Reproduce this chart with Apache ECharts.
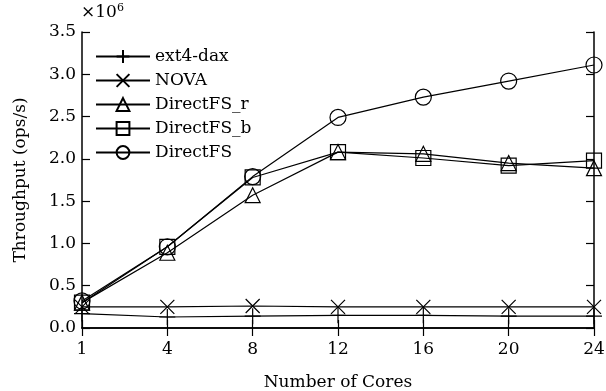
<!DOCTYPE html>
<html>
<head>
<meta charset="utf-8">
<script src="https://cdn.jsdelivr.net/npm/echarts@6/dist/echarts.min.js"></script>
<style>
  html, body { margin: 0; padding: 0; background: #fff; }
  #chart { width: 606px; height: 391px; }
</style>
</head>
<body>
<div id="chart"></div>
<script>
// cores on the x axis
const cores = ['1', '4', '8', '12', '16', '20', '24'];
// throughput, x10^6 ops/s
const ext4dax = [0.17, 0.13, 0.14, 0.15, 0.15, 0.14, 0.14];
const nova = [0.25, 0.25, 0.26, 0.25, 0.25, 0.25, 0.25];
const directfsR = [0.30, 0.89, 1.57, 2.08, 2.06, 1.95, 1.89];
const directfsB = [0.30, 0.96, 1.78, 2.08, 2.01, 1.92, 1.98];
const directfs = [0.32, 0.96, 1.79, 2.49, 2.73, 2.92, 3.11];

const font = 'DejaVu Serif';
const fs = 17;
const plusIcon = 'path://M5,0 L5,10 M0,5 L10,5';
const crossIcon = 'path://M0,0 L10,10 M10,0 L0,10';

function line(name, data, symbol, size) {
  return {
    name: name,
    type: 'line',
    data: data,
    symbol: symbol,
    symbolSize: size,
    showAllSymbol: true,
    lineStyle: { color: '#000', width: 1.2 },
    itemStyle: { color: 'rgba(0,0,0,0)', borderColor: '#000', borderWidth: 1.2 },
    emphasis: { disabled: true },
    animation: false
  };
}

let chart = echarts.init(document.getElementById('chart'));
let option = {
  backgroundColor: '#fff',
  textStyle: { fontFamily: font, color: '#000' },
  grid: { left: 82, right: 12, top: 32, bottom: 63, containLabel: false, outerBoundsMode: 'none' },
  legend: {
    orient: 'vertical',
    left: 90,
    top: 43,
    itemWidth: 54,
    itemHeight: 16,
    itemGap: 7,
    textStyle: { fontFamily: font, fontSize: fs, color: '#000' },
    data: ['ext4-dax', 'NOVA', 'DirectFS_r', 'DirectFS_b', 'DirectFS']
  },
  graphic: [{
    type: 'text',
    left: 81,
    top: 3,
    style: {
      text: '×10{s|6}',
      fontFamily: font,
      fontSize: fs,
      fill: '#000',
      rich: { s: { fontFamily: font, fontSize: 11, verticalAlign: 'top', padding: [0, 0, 8, 0] } }
    }
  }],
  xAxis: [
    {
      type: 'category',
      data: cores,
      boundaryGap: false,
      name: 'Number of Cores',
      nameLocation: 'middle',
      nameGap: 46,
      nameTextStyle: { fontFamily: font, fontSize: fs, color: '#000' },
      axisLine: { lineStyle: { color: '#000', width: 1.5 } },
      axisTick: { inside: true, length: 8, lineStyle: { color: '#000', width: 1.2 } },
      axisLabel: { fontFamily: font, fontSize: fs, color: '#000', margin: 13 },
      splitLine: { show: false }
    },
    {
      type: 'category',
      data: cores,
      boundaryGap: false,
      position: 'top',
      axisLine: { lineStyle: { color: '#000', width: 1.5 } },
      axisTick: { inside: true, length: 8, lineStyle: { color: '#000', width: 1.2 } },
      axisLabel: { show: false },
      splitLine: { show: false }
    }
  ],
  yAxis: [
    {
      type: 'value',
      min: 0,
      max: 3.5,
      interval: 0.5,
      name: 'Throughput (ops/s)',
      nameLocation: 'middle',
      nameGap: 53,
      nameTextStyle: { fontFamily: font, fontSize: fs, color: '#000' },
      axisLine: { show: true, lineStyle: { color: '#000', width: 1.5 } },
      axisTick: { show: true, inside: true, length: 8, lineStyle: { color: '#000', width: 1.2 } },
      axisLabel: { fontFamily: font, fontSize: fs, color: '#000', margin: 6, formatter: v => v.toFixed(1) },
      splitLine: { show: false }
    },
    {
      type: 'value',
      min: 0,
      max: 3.5,
      interval: 0.5,
      position: 'right',
      axisLine: { show: true, lineStyle: { color: '#000', width: 1.5 } },
      axisTick: { show: true, inside: true, length: 8, lineStyle: { color: '#000', width: 1.2 } },
      axisLabel: { show: false },
      splitLine: { show: false }
    }
  ],
  series: [
    line('ext4-dax', ext4dax, plusIcon, 16),
    line('NOVA', nova, crossIcon, 14),
    line('DirectFS_r', directfsR, 'triangle', 15),
    line('DirectFS_b', directfsB, 'rect', 15),
    line('DirectFS', directfs, 'circle', 16)
  ]
};
chart.setOption(option);
</script>
</body>
</html>
